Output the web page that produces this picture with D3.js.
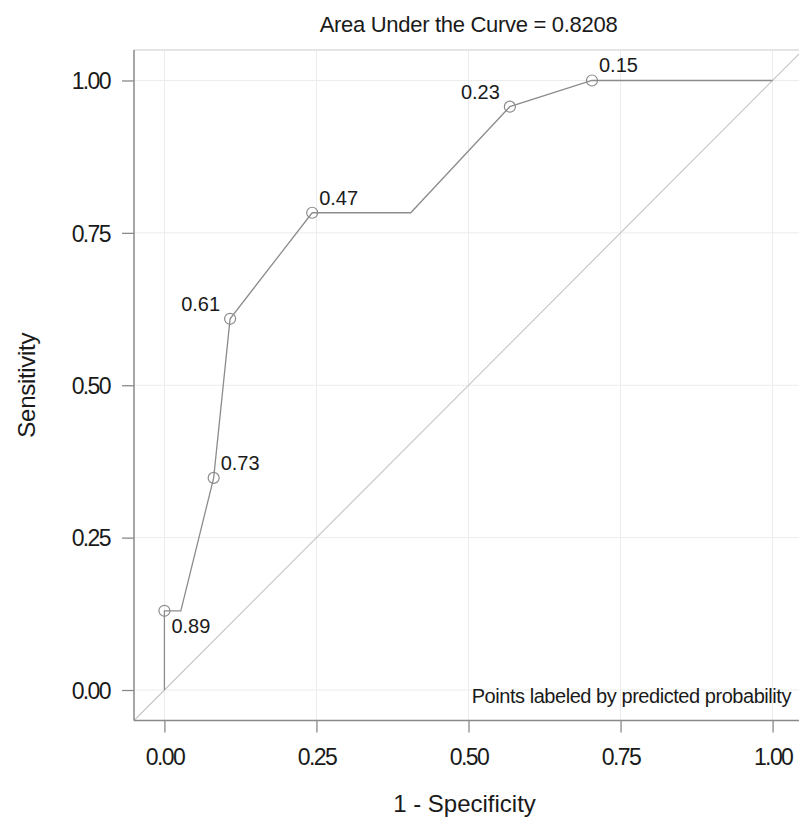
<!DOCTYPE html>
<html>
<head>
<meta charset="utf-8">
<script src="https://cdn.jsdelivr.net/npm/d3@7"></script>
<style>
  html, body { margin: 0; padding: 0; background: #fff; }
  svg { display: block; font-family: "Liberation Sans", Arial, sans-serif; }
</style>
</head>
<body>
<svg id="chart" width="799" height="819"></svg>
<script>
// ROC curve vertices (1 - specificity, sensitivity)
const fpr = [0, 0, 0.027, 0.081, 0.108, 0.243, 0.405, 0.568, 0.703, 1.0];
const tpr = [0, 0.130, 0.130, 0.348, 0.609, 0.783, 0.783, 0.957, 1.0, 1.0];
// labeled points (predicted probability cut-offs)
const labelFpr = [0, 0.081, 0.108, 0.243, 0.568, 0.703];
const labelTpr = [0.130, 0.348, 0.609, 0.783, 0.957, 1.0];
const labelText = ["0.89", "0.73", "0.61", "0.47", "0.23", "0.15"];
const labelPos = ["lr", "ur", "ul", "ur", "ul", "ur"];
const tickVals = [0, 0.25, 0.5, 0.75, 1.0];
const tickLabels = ["0.00", "0.25", "0.50", "0.75", "1.00"];
const titleText = "Area Under the Curve = 0.8208";
const noteText = "Points labeled by predicted probability";

const svg = d3.select("#chart");
const L = 134, R = 803, T = 50, B = 720.5;
const x = d3.scaleLinear().domain([-0.05, 1.05]).range([L, R]);
const y = d3.scaleLinear().domain([-0.05, 1.05]).range([B, T]);

// grid
const g = svg.append("g");
g.selectAll(".gx").data(tickVals).enter().append("line")
  .attr("x1", d => x(d)).attr("x2", d => x(d)).attr("y1", T).attr("y2", B)
  .attr("stroke", "#ececec").attr("stroke-width", 1);
g.selectAll(".gy").data(tickVals).enter().append("line")
  .attr("y1", d => y(d)).attr("y2", d => y(d)).attr("x1", L).attr("x2", R)
  .attr("stroke", "#ececec").attr("stroke-width", 1);
// top border
g.append("line").attr("x1", L).attr("x2", R).attr("y1", T).attr("y2", T)
  .attr("stroke", "#dcdcdc").attr("stroke-width", 1.5);

// diagonal reference
g.append("line")
  .attr("x1", x(-0.05)).attr("y1", y(-0.05)).attr("x2", x(1.05)).attr("y2", y(1.05))
  .attr("stroke", "#c4c4c4").attr("stroke-width", 1.1);

// axes
const xAxis = d3.axisBottom(x).tickValues(tickVals).tickFormat((d, i) => tickLabels[i])
  .tickSize(12).tickPadding(16);
const yAxis = d3.axisLeft(y).tickValues(tickVals).tickFormat((d, i) => tickLabels[i])
  .tickSize(12).tickPadding(12);
const xa = svg.append("g").attr("transform", `translate(0,${B})`).call(xAxis);
const ya = svg.append("g").attr("transform", `translate(${L},0)`).call(yAxis);
[xa, ya].forEach(a => {
  a.select(".domain").attr("stroke", "#8a8a8a").attr("stroke-width", 1.5);
  a.selectAll(".tick line").attr("stroke", "#8a8a8a").attr("stroke-width", 1.3);
  a.selectAll(".tick text").attr("fill", "#1a1a1a")
    .style("font-size", "23px").style("letter-spacing", "-1.6px")
    .style("font-family", "'Liberation Sans', Arial, sans-serif");
});
xa.select(".domain").attr("d", `M${L},0H799`);
ya.select(".domain").attr("d", `M0,${T}V${B}`);
ya.selectAll(".tick text").attr("dy", "0.36em");
xa.selectAll(".tick text").attr("dy", "0.71em");

// ROC curve
const pts = fpr.map((d, i) => [d, tpr[i]]);
const line = d3.line().x(d => x(d[0])).y(d => y(d[1]));
svg.append("path").datum(pts).attr("d", line)
  .attr("fill", "none").attr("stroke", "#8c8c8c").attr("stroke-width", 1.3);

// labeled markers
const lp = labelFpr.map((d, i) => ({ fx: d, ty: labelTpr[i], t: labelText[i], p: labelPos[i] }));
svg.selectAll(".mk").data(lp).enter().append("circle")
  .attr("cx", d => x(d.fx)).attr("cy", d => y(d.ty)).attr("r", 5.5)
  .attr("fill", "none").attr("stroke", "#8c8c8c").attr("stroke-width", 1.2);
svg.selectAll(".lb").data(lp).enter().append("text")
  .attr("x", d => x(d.fx) + (d.p === "ul" ? -10 : 7))
  .attr("y", d => y(d.ty) + (d.p === "lr" ? 22 : -8))
  .attr("text-anchor", d => d.p === "ul" ? "end" : "start")
  .attr("fill", "#1a1a1a").style("font-size", "20px")
  .text(d => d.t);

// title
svg.append("text").attr("x", x(0.5)).attr("y", 32).attr("text-anchor", "middle")
  .attr("fill", "#1a1a1a").style("font-size", "22px").style("letter-spacing", "-0.3px")
  .text(titleText);

// note
svg.append("text").attr("x", 791).attr("y", 703).attr("text-anchor", "end")
  .attr("fill", "#1a1a1a").style("font-size", "20px").style("letter-spacing", "-0.45px")
  .text(noteText);

// axis titles
svg.append("text").attr("x", x(0.5) - 4).attr("y", 812).attr("text-anchor", "middle")
  .attr("fill", "#1a1a1a").style("font-size", "24px").text("1 - Specificity");
svg.append("text").attr("transform", `translate(35,${y(0.5)}) rotate(-90)`)
  .attr("text-anchor", "middle")
  .attr("fill", "#1a1a1a").style("font-size", "24px").style("letter-spacing", "-0.3px").text("Sensitivity");
</script>
</body>
</html>
